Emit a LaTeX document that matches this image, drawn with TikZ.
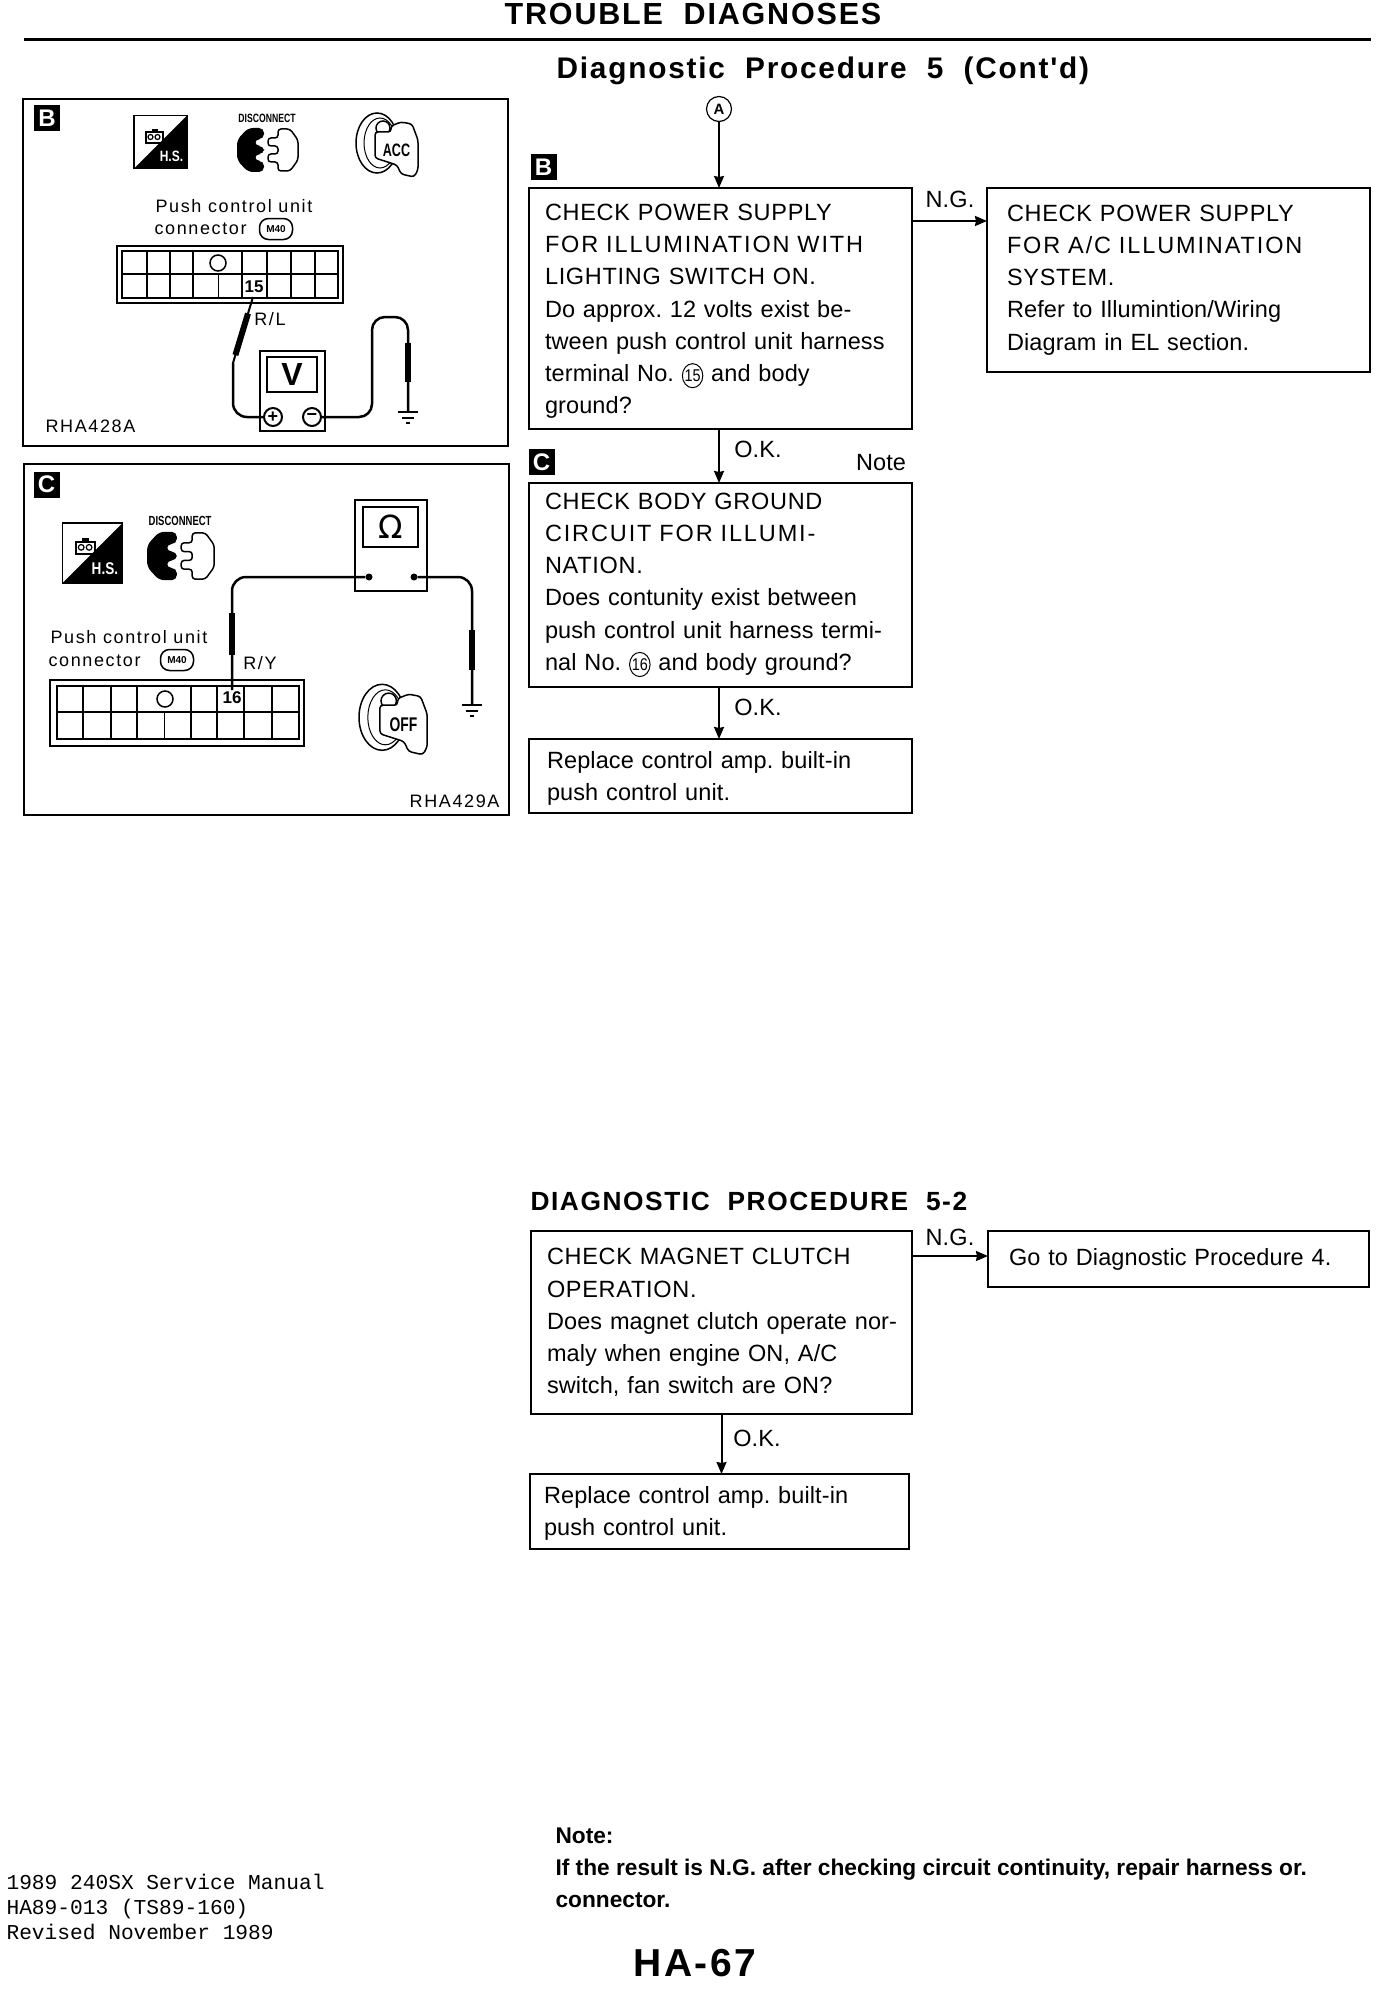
\documentclass[tikz,border=0pt]{standalone}
\usepackage{fontspec}
\setmainfont{Liberation Sans}
\newfontfamily\bodyfont[LetterSpace=0.5]{Liberation Sans}
\newfontfamily\capfont[LetterSpace=3,WordSpace=1.5]{Liberation Sans}
\newfontfamily\widecapfont[LetterSpace=8,WordSpace=1.5]{Liberation Sans}
\newfontfamily\headfont[LetterSpace=6,WordSpace=2]{Liberation Sans}
\newfontfamily\panelfont[LetterSpace=9]{Liberation Sans}
\newfontfamily\symfont{DejaVu Sans}
\setmonofont{Liberation Mono}
\usetikzlibrary{arrows.meta, positioning, calc}
\newcommand{\fsize}[2]{\fontsize{#1}{#2}\selectfont}
\newcommand{\dropfirst}[1]{\rule{0pt}{#1}}
\newcommand{\termno}[1]{\tikz[baseline=(n.base)]\node[draw, circle, line width=1pt, inner sep=0.6pt, text width=, minimum width=0pt,
  minimum height=0pt, xscale=0.85, transform shape, font=\fsize{17}{17}\bodyfont] (n) {#1};}
\frenchspacing

\tikzset{
  hsicon/.pic={
    \draw[line width=1.5pt] (-26.5,-26.5) rectangle (26.5,26.5);
    \fill (-26.5,26.5) -- (26.5,-26.5) -- (26.5,26.5) -- cycle;
    \draw[line width=2pt] (-15,-10) rectangle (2,1);
    \fill (-9,-13) rectangle (-3,-9);
    \draw[line width=1.2pt] (-10,-5) circle (2.5) (-3,-5) circle (2.5);
    \node[text=white, transform shape, xscale=0.8, font=\fsize{15}{15}\bfseries] at (11,14) {H.S.};
  },
  unplugicon/.pic={
    \fill[rounded corners=5pt] (-2,-22) -- (-18,-22) -- (-29,-10) -- (-29,10) -- (-18,22) -- (-2,22)
      -- (-2,11) -- (-11,11) -- (-11,4) -- (-2,4) -- (-2,-4) -- (-11,-4) -- (-11,-11) -- (-2,-11) -- cycle;
    \draw[line width=1.5pt, rounded corners=3pt] (12,-21) -- (24,-21) -- (32,-10) -- (32,10) -- (24,21) -- (12,21)
      -- (12,12) -- (2,12) -- (2,4) -- (12,4) -- (12,-4) -- (2,-4) -- (2,-12) -- (12,-12) -- cycle;
    \node[transform shape, xscale=0.72, font=\fsize{12}{12}\bfseries] at (1,-32) {DISCONNECT};
  },
  keyicon/.pic={
    \draw[line width=1.5pt] (-19,-7) ellipse (21 and 30);
    \draw[line width=1pt] (-16,-7) ellipse (16 and 25);
    \draw[line width=1.5pt, fill=white] (-13,-22) circle (7);
    \draw[line width=1.5pt, fill=white, rounded corners=3pt] (-21,-18) -- (-5,-18) -- (-5,-24) -- (5,-28) -- (16,-26)
      -- (22,-10) -- (22,20) -- (18,27) -- (5,24) -- (1,15) -- (-21,8) -- cycle;
    \node[transform shape, xscale=0.7, font=\fsize{18}{18}\bfseries] at (0.5,0) {\tikzpictext};
  },
  earth/.pic={
    \draw[line width=1.5pt] (-10,0) -- (10,0) (-6,6) -- (6,6) (-2,11) -- (2,11);
  },
}

\begin{document}
\begin{tikzpicture}[x=1pt, y=-1pt,
  stepbox/.style = {draw, line width=1.8pt, outer sep=0pt, inner xsep=16pt, inner ysep=0pt, align=left,
                    font=\fsize{23.5}{32.2}\bodyfont},
  boxsize/.style 2 args = {minimum width=#1pt, minimum height=#2pt, text width=#1pt-32pt},
  arr/.style     = {-{Stealth[length=12pt, width=10pt, inset=1pt]}, line width=2pt},
  flowlabel/.style = {font=\fsize{23.5}{28}\bodyfont},
  tagbox/.style  = {fill=black, text=white, minimum size=26pt, inner sep=0pt, font=\fsize{24}{24}\bfseries},
  panel/.style   = {draw, line width=2pt, outer sep=0pt, anchor=north west},
  paneltext/.style = {font=\fsize{18}{20}\panelfont},
  pill/.style    = {draw, line width=1.5pt, rounded corners=9pt, minimum width=33pt, minimum height=21pt, inner sep=0pt,
                    font=\fsize{10}{10}\bfseries},
  pinbox/.style  = {draw, line width=1.5pt, outer sep=0pt, inner sep=0pt, anchor=north west},
  pinline/.style = {line width=1.7pt},
  meter/.style   = {draw, line width=2pt, outer sep=0pt, anchor=north west},
  term/.style    = {draw, circle, line width=2pt, minimum size=18pt, inner sep=0pt, font=\fsize{18}{18}\bfseries},
  wire/.style    = {line width=2.5pt},
  probe/.style   = {line width=6pt},
  lead/.style    = {line width=2pt},
  printed/.style = {anchor=west, font=\fsize{21.2}{25}\ttfamily, align=left},
  note/.style    = {anchor=west, font=\fsize{22.7}{32}\bfseries, align=left},
]
\useasboundingbox (0,0) rectangle (1392,1996);

% ── Page head ────────────────────────────────────────────────────────────────
\node[font=\fsize{30.5}{30}\headfont\bfseries] (pagehead) at (693,14) {TROUBLE DIAGNOSES};
\coordinate (rulel) at (24,40);
\coordinate (ruler) at (1371,40);
\draw[line width=3pt] (rulel) -- (ruler);
\node[anchor=west, font=\fsize{29.8}{30}\headfont\bfseries] (title) at (553,71) {Diagnostic Procedure 5 (Cont'd)};

% ── Flow, procedure 5 ────────────────────────────────────────────────────────
\node[stepbox, boxsize={383}{241}, anchor=north west] (pwr) at (529,188) {\dropfirst{22pt}\capfont
  CHECK POWER SUPPLY\\\widecapfont FOR ILLUMINATION WITH\\\capfont LIGHTING SWITCH ON.\\\bodyfont
  Do approx. 12 volts exist be-\\tween push control unit harness\\terminal No. \termno{15} and body\\ground?};
\node[stepbox, boxsize={383}{184}, inner xsep=20pt, text width=343pt, right=75pt of pwr.north east, anchor=north west] (acsys) {\capfont
  CHECK POWER SUPPLY\\\widecapfont FOR A/C ILLUMINATION\\\capfont SYSTEM.\\\bodyfont
  Refer to Illumintion/Wiring\\Diagram in EL section.\\[6pt]};
\node[stepbox, boxsize={383}{204}, below=54pt of pwr] (gndchk) {\capfont
  CHECK BODY GROUND\\\widecapfont CIRCUIT FOR ILLUMI-\\\capfont NATION.\\\bodyfont
  Does contunity exist between\\push control unit harness termi-\\nal No. \termno{16} and body ground?};
\node[stepbox, boxsize={383}{74}, inner xsep=18pt, text width=347pt, below=52pt of gndchk] (amp) {\dropfirst{22pt}\bodyfont
  Replace control amp. built-in\\push control unit.};

\node[draw, circle, line width=1.2pt, minimum size=25pt, inner sep=0pt, font=\fsize{15}{15}\bfseries] (circa) at (719,109) {A};
\node[tagbox] (tagflowb) at (543.5,167) {B};
\node[tagbox] (tagflowc) at (541.5,462) {C};

\draw[arr, line width=1.5pt] (circa) -- (circa |- pwr.north);
\draw[arr] ($(pwr.north east)+(0,33)$) -- ($(acsys.north west)+(0,33)$);
\draw[arr] (pwr.south -| circa) -- (gndchk.north -| circa);
\draw[arr] (gndchk.south -| circa) -- (amp.north -| circa);

\node[flowlabel] (ngone) at (950,199) {N.G.};
\node[flowlabel] (okone) at (758,449) {O.K.};
\node[flowlabel] (notemark) at (881,463) {Note};
\node[flowlabel] (oktwo) at (758,707) {O.K.};

% ── Flow, procedure 5-2 ──────────────────────────────────────────────────────
\node[anchor=west, font=\fsize{26.3}{30}\headfont\bfseries] (titleb) at (527,1201) {DIAGNOSTIC PROCEDURE 5-2};
\node[stepbox, boxsize={381}{183}, anchor=north west] (clutch) at (531,1231) {\capfont
  CHECK MAGNET CLUTCH\\OPERATION.\\\bodyfont
  \mbox{Does magnet clutch operate nor-}\\maly when engine ON, A/C\\switch, fan switch are ON?\\[4pt]};
\node[stepbox, boxsize={381}{56}, inner xsep=21pt, text width=339pt, right=76pt of clutch.north east, anchor=north west] (goto) {\bodyfont
  Go to Diagnostic Procedure 4.\\[12pt]};
\node[stepbox, boxsize={379}{75}, inner xsep=14pt, text width=351pt, below=60pt of clutch, xshift=-2pt] (ampb) {\dropfirst{21pt}\bodyfont
  Replace control amp. built-in\\push control unit.};

\draw[arr] ($(clutch.north east)+(0,25)$) -- ($(goto.north west)+(0,25)$);
\draw[arr] (clutch.south) -- (clutch.south |- ampb.north);
\node[flowlabel] (ngtwo) at (950,1237) {N.G.};
\node[flowlabel] (okthree) at (757,1438) {O.K.};

% ── Panel B ──────────────────────────────────────────────────────────────────
\node[panel, minimum width=485pt, minimum height=347pt] (panelb) at (23,99) {};
\node[tagbox] (tagb) at (47,118.5) {B};
\pic at (160.5,142) {hsicon};
\pic at (266,150) {unplugicon};
\pic[pic text=ACC] at (396,150) {keyicon};
\node[paneltext, anchor=west] (pushb) at (152,206) {Push control unit};
\node[paneltext, anchor=west] (conb) at (151,229) {connector};
\node[pill] (pillb) at (276,229) {M40};

\node[pinbox, minimum width=226pt, minimum height=57pt] (cnctb) at (117,246) {};
\draw[pinline] (122,251) rectangle (338,298);
\draw[pinline] (122,274) -- (338,274);
\foreach \x in {147,170,193,242,267,291,315}
  \draw[pinline] (\x,251) -- (\x,298);
\draw[line width=1pt] (218,274) -- (218,298);
\draw[line width=1.5pt] (218,263) circle (8);
\node[font=\fsize{17}{17}\bfseries] (pinb) at (254,287) {15};

\node[meter, minimum width=65pt, minimum height=80pt] (meterb) at (260,351) {};
\node[meter, minimum width=50pt, minimum height=35pt, font=\fsize{32}{32}\bfseries] (dispb) at (267,357) {V};
\node[term] (plusb) at (273,417) {+};
\node[term] (minusb) at (312,417) {\textminus};
\coordinate (tipb) at (253,297);
\coordinate (probeb) at (233,363);
\coordinate (topb) at (372,317);
\coordinate (gndb) at (408,412);
\draw[lead] (tipb) -- (probeb);
\draw[probe] ($(tipb)!0.25!(probeb)$) -- ($(tipb)!0.88!(probeb)$);
\draw[wire, rounded corners=14pt] (plusb.west) -| (probeb);
\draw[wire, rounded corners=13pt] (minusb.east) -| (topb) -| (gndb);
\draw[probe] ($(gndb)+(0,-69)$) -- ($(gndb)+(0,-30)$);
\pic at (gndb) {earth};
\node[paneltext] (rlabel) at (270,319) {R/L};
\node[paneltext, anchor=west] (codeb) at (42,426) {RHA428A};

% ── Panel C ──────────────────────────────────────────────────────────────────
\node[panel, minimum width=485pt, minimum height=351pt] (panelc) at (24,464) {};
\node[tagbox] (tagc) at (46.5,484.5) {C};
\pic[scale=1.13] at (92.5,553) {hsicon};
\pic[scale=1.1] at (179,556) {unplugicon};
\pic[scale=1.1, pic text=OFF] at (403,725) {keyicon};
\node[paneltext, anchor=west] (pushc) at (47,637) {Push control unit};
\node[paneltext, anchor=west] (conc) at (45,661) {connector};
\node[pill] (pillc) at (177,660) {M40};

\node[pinbox, minimum width=254pt, minimum height=66pt] (cnctc) at (50,680) {};
\draw[pinline] (57,686) rectangle (299,739);
\draw[pinline] (57,712) -- (299,712);
\foreach \x in {83,111,137,191,217,244,272}
  \draw[pinline] (\x,686) -- (\x,739);
\draw[line width=1pt] (164,712) -- (164,739);
\draw[line width=1.5pt] (165,699) circle (8);

\node[meter, minimum width=72pt, minimum height=91pt] (meterc) at (355,500) {};
\node[meter, minimum width=55pt, minimum height=40pt, font=\fsize{32}{32}\symfont] (dispc) at (363,507) {Ω};
\node[circle, fill=black, minimum size=7pt, inner sep=0pt] (ldot) at (369,577) {};
\node[circle, fill=black, minimum size=7pt, inner sep=0pt] (rdot) at (414,577) {};
\coordinate (tipc) at (232,690);
\coordinate (gndc) at (472,705);
\draw[wire, rounded corners=14pt] (ldot) -| (tipc);
\draw[wire, rounded corners=14pt] (rdot) -| (gndc);
\draw[probe] ($(tipc)+(0,-77)$) -- ($(tipc)+(0,-35)$);
\draw[probe] ($(gndc)+(0,-75)$) -- ($(gndc)+(0,-35)$);
\pic at (gndc) {earth};
\node[font=\fsize{17}{17}\bfseries, fill=white, inner sep=0.5pt] (pinc) at (232,698) {16};
\node[paneltext] (rylabel) at (260,663) {R/Y};
\node[paneltext, anchor=east] (codec) at (503,801) {RHA429A};

% ── Page foot ────────────────────────────────────────────────────────────────
\node[printed] (manual) at (3,1907) {1989 240SX Service Manual\\HA89-013 (TS89-160)\\Revised November 1989};
\node[note] (notebody) at (552,1868) {Note:\\If the result is N.G. after checking circuit continuity, repair harness or.\\connector.};
\node[font=\fsize{39}{39}\headfont\bfseries] (pageno) at (695,1963) {HA-67};
\end{tikzpicture}
\end{document}
